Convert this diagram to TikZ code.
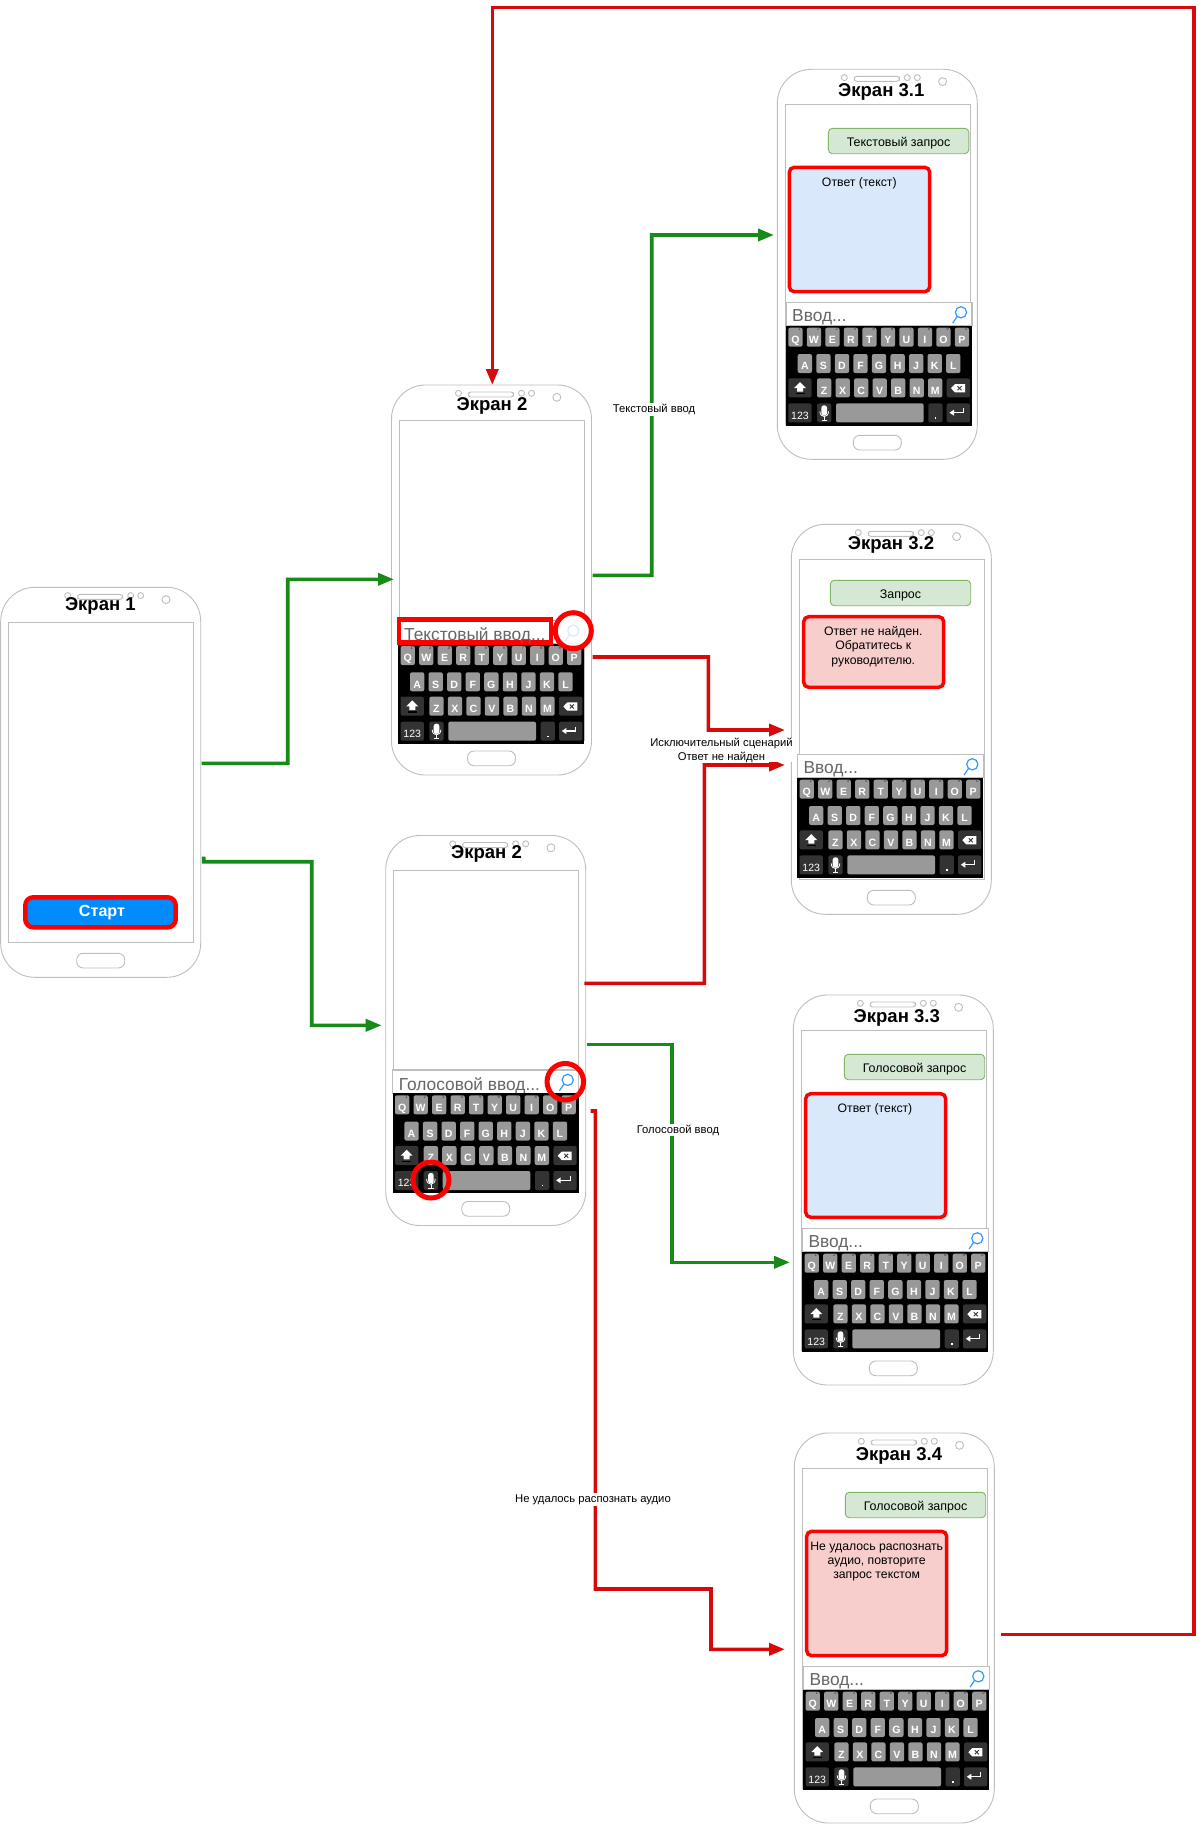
\documentclass[tikz,border=0pt]{standalone}
\usepackage{fontspec}
\setmainfont{Liberation Sans}
\usetikzlibrary{arrows.meta}
\definecolor{flowgreen}{RGB}{24,138,24}
\definecolor{flowred}{RGB}{214,10,10}
\definecolor{phonegray}{RGB}{190,190,190}
\definecolor{keygray}{RGB}{153,153,153}
\definecolor{keydark}{RGB}{51,51,51}
\definecolor{searchblue}{RGB}{51,153,255}
\definecolor{startblue}{RGB}{0,140,255}
\definecolor{askfill}{RGB}{213,232,212}
\definecolor{askline}{RGB}{130,179,102}
\definecolor{answerblue}{RGB}{218,232,252}
\definecolor{answerred}{RGB}{248,206,204}
\tikzset{
  phoneline/.style={draw=phonegray,line width=.9bp},
  phonebody/.style={phoneline,fill=white,rounded corners=34bp,minimum width=200bp,minimum height=390bp,inner sep=0pt,outer sep=0pt},
  phonetitle/.style={inner sep=0pt,font=\fontsize{18.6}{20}\selectfont\bfseries},
  keycap/.style={fill=keygray,rounded corners=2bp,minimum width=14.3bp,minimum height=19bp,inner sep=0pt,text=white,text height=12.4bp,text depth=0pt,font=\fontsize{10.6}{10}\selectfont\bfseries},
  keywide/.style={keycap,fill=keydark,minimum width=23.3bp},
  keydigit/.style={inner sep=0pt,text=keydark,font=\fontsize{4.5}{5}\selectfont},
  bartext/.style={inner sep=0pt,anchor=west,text=black!60,font=\fontsize{17.4}{18}\selectfont},
  askbox/.style={draw=askline,fill=askfill,inner sep=0pt,rounded corners=4bp,line width=.9bp,minimum width=140.4bp,minimum height=25.4bp,text height=11bp,text depth=0pt,font=\fontsize{12.5}{14}\selectfont},
  answerbox/.style={draw=red,line width=3.5bp,rounded corners=5bp,inner sep=0pt},
  msgtext/.style={inner sep=0pt,align=center,font=\fontsize{12.3}{14.5}\selectfont},
  flowtext/.style={fill=white,inner sep=1pt,align=center,font=\fontsize{11.3}{14}\selectfont},
  markring/.style={draw=red,line width=5bp,circle,minimum size=36bp,inner sep=0pt},
  go/.style={flowgreen,line width=3.6bp,->},
  fail/.style={flowred,line width=3.6bp,->},
}
% phone: name, left, top, title, title x, title y
\newcommand{\phone}[6]{
  \node (#1) at (#2+100,#3+195) [phonebody] {};
  \begin{scope}[shift={(#2,#3)}]
    \draw[phoneline,rounded corners=2.5bp] (77,7) rectangle (122,12);
    \foreach \cx in {67,130,140} \draw[phoneline] (\cx,8.3) circle (3bp);
    \draw[phoneline] (165.3,12.3) circle (4bp);
    \draw[phoneline] (8,35) rectangle (193,355);
    \draw[phoneline,rounded corners=6.5bp] (76,366) rectangle (124,380.7);
  \end{scope}
  \node (title_#1) at (#5,#6) [phonetitle] {#4};
}
% keyboard with its input bar: name, left, top, bar text
\newcommand{\keyboard}[4]{
  \begin{scope}[shift={(#2,#3)}]
    \draw[phoneline,line width=1.2bp,fill=white] (0,-23.4) rectangle (186,0);
    \node (#1_bar) at (6,-8) [bartext] {#4};
    \draw[searchblue,line width=1.2bp] (175,-13.4) circle (5.6bp);
    \draw[searchblue,line width=1.2bp] (171.2,-9.2) -- (166.7,-2.6);
    \fill[black] (0,0) rectangle (186,100);
    \foreach \ltr [count=\idx] in {Q,W,E,R,T,Y,U,I,O,P} {
      \pgfmathtruncatemacro{\dgt}{mod(\idx,10)}
      \node (#1_\ltr) at ({9.45+18.5*(\idx-1)},11.5) [keycap] {\ltr};
      \node (#1_d\dgt) at ({13.6+18.5*(\idx-1)},3.6) [keydigit] {\dgt};
    }
    \foreach \ltr [count=\idx] in {A,S,D,F,G,H,J,K,L}
      \node (#1_\ltr) at ({18.85+18.55*(\idx-1)},37.8) [keycap] {\ltr};
    \foreach \ltr [count=\idx] in {Z,X,C,V,B,N,M}
      \node (#1_\ltr) at ({38.15+18.5*(\idx-1)},62.2) [keycap] {\ltr};
    \node (#1_shift) at (13.95,62.2) [keywide] {};
    \fill[white] (14,56.4) -- (20,62.4) -- (17,62.4) -- (17,66) -- (11,66) -- (11,62.4) -- (8,62.4) -- cycle;
    \fill[black] (9.5,67.4) rectangle (18.5,68.6);
    \node (#1_del) at (172.35,62.2) [keywide] {};
    \fill[white] (165,62.5) -- (169,58.3) -- (179,58.3) -- (179,66.7) -- (169,66.7) -- cycle;
    \draw[keydark,line width=.9bp] (171.5,60.5) -- (175.5,64.5) (171.5,64.5) -- (175.5,60.5);
    \node (#1_num) at (13.95,87.2) [keywide,font=\fontsize{10.6}{10}\selectfont] {123};
    \node (#1_mic) at (38.15,87.2) [keycap,fill=keydark] {};
    \fill[white,rounded corners=2.5bp] (35.4,79.6) rectangle (41,90);
    \draw[white,line width=.8bp] (33.9,85.6) .. controls (33.9,92.6) and (42.5,92.6) .. (42.5,85.6);
    \draw[white,line width=.8bp] (38.2,91) -- (38.2,94.4) (35.6,94.6) -- (40.8,94.6);
    \node (#1_space) at (93.85,87.2) [keycap,minimum width=87.7bp] {};
    \node (#1_dot) at (149.45,87.2) [keycap,fill=keydark] {};
    \fill[white] (149,91.6) rectangle (150.2,92.8);
    \node (#1_enter) at (172.35,87.2) [keywide] {};
    \draw[white,line width=1.3bp] (167,87) -- (177.5,87) -- (177.5,82.5);
    \fill[white] (163.5,87) -- (168,84) -- (168,90) -- cycle;
  \end{scope}
}
\begin{document}
\begin{tikzpicture}[x=1bp,y=-1bp,>={Triangle[length=16bp,width=12bp]},line join=miter]
\fill[white] (0,0) rectangle (1202,1824);
\useasboundingbox (0,0) rectangle (1202,1824);
%%
\phone{node_1}{0.7}{587.3}{Экран 1}{100.4}{606.3}
  \phone{node_2}{391.5}{385}{Экран 2}{492}{406.3}
  \phone{node_3}{385.7}{835.5}{Экран 2}{486.5}{854.3}
  \phone{node_31}{777.3}{69.3}{Экран 3.1}{881.3}{92.3}
  \phone{node_32}{791.3}{524.3}{Экран 3.2}{891}{544.8}
  \phone{node_33}{793.3}{995}{Экран 3.3}{896.8}{1018.3}
  \phone{node_34}{794.3}{1433}{Экран 3.4}{899}{1456.3}
%
\keyboard{kbd_2}{398.3}{644}{}
  \keyboard{kbd_3}{392.7}{1093.3}{Голосовой ввод...}
  \keyboard{kbd_31}{786}{325.7}{Ввод...}
  \keyboard{kbd_32}{797.3}{777.7}{Ввод...}
  \keyboard{kbd_33}{802.3}{1251.7}{Ввод...}
  \keyboard{kbd_34}{803.3}{1689.7}{Ввод...}
%
\node (start_btn) at (100.5,912.3) [draw=red,line width=4.5bp,fill=startblue,rounded corners=8bp,minimum width=150.4bp,minimum height=30bp,inner sep=0pt,text=white,font=\fontsize{16.2}{16}\selectfont\bfseries] {\raisebox{-2.2bp}{\hspace*{3bp}Старт}};
%
\node (input_2) at (475,631.1) [draw=red,line width=4.5bp,minimum width=152bp,minimum height=23.2bp,inner sep=0pt] {};
  \node (input_2_text) at (404,635.5) [bartext] {Текстовый ввод...};
  \draw[red!15,line width=.8bp] (559,620.5) rectangle (584,644);
  \node (ring_2) at (573.3,630.7) [markring,fill=white,fill opacity=.8,draw opacity=1] {};
  \node (ring_3a) at (565.3,1081.7) [markring,minimum size=36.5bp] {};
  \node (ring_3b) at (431,1180) [markring] {};
%
\node (ask_31) at (898.6,141) [askbox] {Текстовый запрос};
  \node (ask_32) at (900.5,593) [askbox] {Запрос};
  \node (ask_33) at (914.5,1067) [askbox] {Голосовой запрос};
  \node (ask_34) at (915.5,1505) [askbox] {Голосовой запрос};
%
\node (answer_31) at (859.5,229.5) [answerbox,fill=answerblue,minimum width=140.4bp,minimum height=124.4bp] {};
  \node (answer_31_text) at (859.3,183.5) [msgtext] {Ответ (текст)};
  \node (answer_32) at (873.7,652) [answerbox,fill=answerred,minimum width=140bp,minimum height=70.6bp] {};
  \node (answer_32_text) at (873.3,646.7) [msgtext] {Ответ не найден.\\Обратитесь к\\руководителю.};
  \node (answer_33) at (875.7,1155.5) [answerbox,fill=answerblue,minimum width=140bp,minimum height=123.6bp] {};
  \node (answer_33_text) at (875,1109.5) [msgtext] {Ответ (текст)};
  \node (answer_34) at (876.7,1593.5) [answerbox,fill=answerred,minimum width=140bp,minimum height=124.4bp] {};
  \node (answer_34_text) at (876.7,1561.5) [msgtext] {Не удалось распознать\\аудио, повторите\\запрос текстом};
%
\draw [go] ([shift={(1,-19)}]node_1.east) -- (287.7,763.3) -- (287.7,579.3) -- ([shift={(2.5,-.7)}]node_2.west);
  \draw [go] ([shift={(3,74.4)}]node_1.east) -- (203.7,861.7) -- (311.7,861.7) -- (311.7,1025.3) -- ([shift={(-4,-5.2)}]node_3.west);
  \draw [go] ([shift={(1,-4.7)}]node_2.east) -- (651.7,575.3) -- (651.7,235) -- ([shift={(-3.3,-29.3)}]node_31.west);
  \draw [fail] ([shift={(1,77)}]node_2.east) -- (708.3,657) -- (708.3,730) -- ([shift={(-6.3,10.7)}]node_32.west);
  \draw [fail] ([shift={(-1.4,-47.2)}]node_3.east) -- (704.3,983.3) -- (704.3,765) -- ([shift={(-6.3,45.7)}]node_32.west);
  \draw [go] ([shift={(1,13.8)}]node_3.east) -- (671.7,1044.3) -- (671.7,1262.3) -- ([shift={(-3.3,72.3)}]node_33.west);
  \draw [fail] ([shift={(5,80.5)}]node_3.east) -- (595.3,1111) -- (595.3,1589) -- (711,1589) -- (711,1649.3) -- ([shift={(-9.3,21.3)}]node_34.west);
  \draw [fail] ([shift={(6.2,6.5)}]node_34.east) -- (1193.7,1634.5) -- (1193.7,7.3) -- (492.3,7.3) -- ([shift={(.8,0)}]node_2.north);
%
\node (label_text) at (654,409.3) [flowtext] {Текстовый ввод};
  \node (label_voice) at (678,1130) [flowtext] {Голосовой ввод};
  \node (label_fail) at (721.5,750.2) [flowtext,inner sep=0pt] {Исключительный сценарий\\Ответ не найден};
  \node (label_audio) at (593,1499.5) [flowtext] {Не удалось распознать аудио};
%
\end{tikzpicture}
\end{document}
